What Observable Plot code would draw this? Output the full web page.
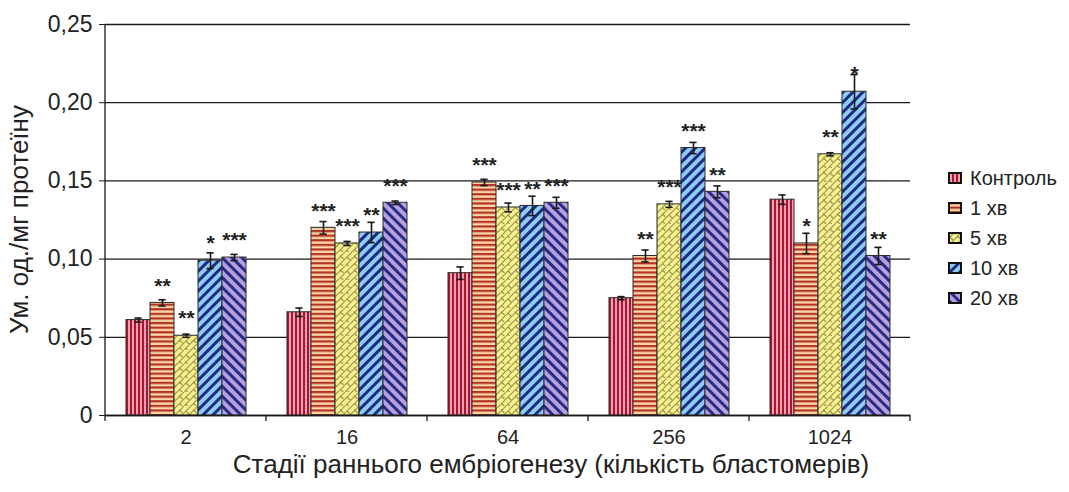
<!DOCTYPE html>
<html>
<head>
<meta charset="utf-8">
<script src="https://cdn.jsdelivr.net/npm/d3@7"></script>
<script src="https://cdn.jsdelivr.net/npm/@observablehq/plot@0.6"></script>
<style>
  body { margin: 0; background: #fff; }
  #chart { position: relative; width: 1069px; height: 492px; font-family: "Liberation Sans", Arial, sans-serif; color: #222; }
  #chart svg.plot { position: absolute; left: 0; top: 0; }
  .legend { position: absolute; left: 948px; top: 163px; }
  .legend-item { position: absolute; left: 0; height: 30px; display: flex; align-items: center; white-space: nowrap; font-size: 20px; color: #222; }
  .legend-item svg { margin-right: 8px; }
</style>
</head>
<body>
<div id="chart"></div>
<script>
// Stages of early embryogenesis (number of blastomeres) and exposure groups
const stages = ["2", "16", "64", "256", "1024"];
const series = ["Контроль", "1 хв", "5 хв", "10 хв", "20 хв"];

// Mean values, arbitrary units per mg of protein
const valControl = [0.061, 0.066, 0.091, 0.075, 0.138];
const val1min    = [0.072, 0.120, 0.149, 0.102, 0.110];
const val5min    = [0.051, 0.110, 0.133, 0.135, 0.167];
const val10min   = [0.099, 0.117, 0.134, 0.171, 0.207];
const val20min   = [0.101, 0.136, 0.136, 0.143, 0.102];

// Standard errors
const errControl = [0.0013, 0.0027, 0.0040, 0.0010, 0.0030];
const err1min    = [0.0020, 0.0040, 0.0020, 0.0038, 0.0065];
const err5min    = [0.0010, 0.0013, 0.0028, 0.0019, 0.0010];
const err10min   = [0.0050, 0.0065, 0.0062, 0.0036, 0.0110];
const err20min   = [0.0020, 0.0011, 0.0035, 0.0038, 0.0055];

// Significance versus control
const sigControl = ["", "", "", "", ""];
const sig1min    = ["**", "***", "***", "**", "*"];
const sig5min    = ["**", "***", "***", "***", "**"];
const sig10min   = ["*", "**", "**", "***", "*"];
const sig20min   = ["***", "***", "***", "**", "**"];

// Y axis ticks and titles
const yTicks = [0, 0.05, 0.10, 0.15, 0.20, 0.25];
const yTitle = "Ум. од./мг протеїну";
const xTitle = "Стадії раннього ембріогенезу (кількість бластомерів)";

const values = [valControl, val1min, val5min, val10min, val20min];
const errors = [errControl, err1min, err5min, err10min, err20min];
const sigs = [sigControl, sig1min, sig5min, sig10min, sig20min];

const rows = [];
series.forEach((s, i) => stages.forEach((st, j) => {
  rows.push({stage: st, series: s, value: values[i][j], err: errors[i][j], sig: sigs[i][j]});
}));

// Hatch patterns for the bar fills
const defsSvg = d3.select("body").append("svg")
  .attr("width", 0).attr("height", 0).style("position", "absolute");
const defs = defsSvg.append("defs");

// Контроль: vertical stripes
const p0 = defs.append("pattern").attr("id", "pat0").attr("patternUnits", "userSpaceOnUse").attr("width", 4).attr("height", 4);
p0.append("rect").attr("width", 4).attr("height", 4).attr("fill", "#f49db3");
p0.append("rect").attr("width", 2).attr("height", 4).attr("fill", "#a5162f");

// 1 хв: horizontal stripes
const p1 = defs.append("pattern").attr("id", "pat1").attr("patternUnits", "userSpaceOnUse").attr("width", 4).attr("height", 4.6);
p1.append("rect").attr("width", 4).attr("height", 4.6).attr("fill", "#fad7a0");
p1.append("rect").attr("width", 4).attr("height", 2.2).attr("fill", "#b3312a");

// 5 хв: diagonal brick
const p2 = defs.append("pattern").attr("id", "pat2").attr("patternUnits", "userSpaceOnUse").attr("width", 14).attr("height", 14);
p2.append("rect").attr("width", 14).attr("height", 14).attr("fill", "#f7f08f");
p2.append("path")
  .attr("d", "M-1,8 L8,-1 M-1,15 L15,-1 M6,15 L15,6 M2,5 L5.5,8.5 M9.5,11.5 L13,15 M9,3.5 L12.5,7 M1.5,12 L4,14.5")
  .attr("stroke", "#9a944c").attr("stroke-width", 1.1).attr("fill", "none");

// 10 хв and 20 хв: wide diagonal stripes
const p3 = defs.append("pattern").attr("id", "pat3").attr("patternUnits", "userSpaceOnUse").attr("width", 7).attr("height", 7).attr("patternTransform", "rotate(45)");
p3.append("rect").attr("width", 7).attr("height", 7).attr("fill", "#8fcdf0");
p3.append("rect").attr("width", 3).attr("height", 7).attr("fill", "#1e2b86");

const p4 = defs.append("pattern").attr("id", "pat4").attr("patternUnits", "userSpaceOnUse").attr("width", 7).attr("height", 7).attr("patternTransform", "rotate(-45)");
p4.append("rect").attr("width", 7).attr("height", 7).attr("fill", "#b8a1db");
p4.append("rect").attr("width", 3).attr("height", 7).attr("fill", "#262d88");

const fills = series.map((_, i) => `url(#pat${i})`);
const fmt = d => d === 0 ? "0" : d.toFixed(2).replace(".", ",");
const ink = "#1a1a1a";

const plot = Plot.plot({
  width: 1069,
  height: 492,
  marginLeft: 103,
  marginRight: 158,
  marginTop: 24,
  marginBottom: 77,
  style: {fontFamily: "Liberation Sans, Arial, sans-serif", fontSize: "20px", color: "#222", background: "transparent"},
  fx: {domain: stages, padding: 0},
  x: {domain: series, paddingInner: 0, paddingOuter: 0.76, axis: null},
  y: {domain: [0, 0.25]},
  color: {type: "ordinal", domain: series, range: fills},
  marks: [
    Plot.gridY(yTicks, {stroke: ink, strokeOpacity: 1, strokeWidth: 1.3}),
    Plot.axisY({ticks: yTicks, tickFormat: fmt, tickSize: 6, tickPadding: 7, stroke: ink, fontSize: 23,
      label: null}),
    Plot.axisFx({anchor: "bottom", tickSize: 0, tickPadding: 14, fontSize: 20, label: null}),
    Plot.barY(rows, {fx: "stage", x: "series", y: "value", fill: "series", stroke: "#2a2a2a", strokeWidth: 1}),
    Plot.ruleX(rows, {fx: "stage", x: "series", y1: d => d.value - d.err, y2: d => d.value + d.err, stroke: ink, strokeWidth: 1.6}),
    Plot.tickY(rows, {fx: "stage", x: "series", y: d => d.value + d.err, insetLeft: 8.4, insetRight: 8.4, stroke: ink, strokeWidth: 1.6}),
    Plot.tickY(rows, {fx: "stage", x: "series", y: d => d.value - d.err, insetLeft: 8.4, insetRight: 8.4, stroke: ink, strokeWidth: 1.6}),
    Plot.text(rows.filter(d => d.sig), {fx: "stage", x: "series", y: "value", text: "sig", dy: -17, fontSize: 21, fontWeight: "bold", fill: "#222"}),
    Plot.ruleY([0], {stroke: ink, strokeWidth: 1.3})
  ]
});
plot.classList.add("plot");
document.getElementById("chart").appendChild(plot);

// Vertical axis line, category separator ticks and both axis titles
const ys = plot.scale("y");
const fxs = plot.scale("fx");
const svg = d3.select(plot);
const [x0, x1] = [fxs.apply(stages[0]), fxs.apply(stages[stages.length - 1]) + fxs.bandwidth];
svg.append("line").attr("x1", x0).attr("x2", x0).attr("y1", ys.apply(0.25)).attr("y2", ys.apply(0))
  .attr("stroke", ink).attr("stroke-width", 1.3);
const edges = stages.map(s => fxs.apply(s)).concat([x1]);
svg.append("g").selectAll("line").data(edges).join("line")
  .attr("x1", d => d).attr("x2", d => d).attr("y1", ys.apply(0)).attr("y2", ys.apply(0) + 6)
  .attr("stroke", ink).attr("stroke-width", 1.3);
svg.append("text").attr("x", 551).attr("y", 473).attr("text-anchor", "middle")
  .attr("font-size", 26).attr("fill", "#222").text(xTitle);
svg.append("text").attr("transform", `translate(28,${(ys.apply(0) + ys.apply(0.25)) / 2}) rotate(-90)`)
  .attr("text-anchor", "middle").attr("font-size", 26).attr("fill", "#222").text(yTitle);

// Legend
const legend = d3.select("#chart").append("div").attr("class", "legend");
series.forEach((s, i) => {
  const item = legend.append("div").attr("class", "legend-item").style("top", `${i * 30}px`);
  const sw = item.append("svg").attr("width", 14).attr("height", 12);
  sw.append("rect").attr("x", 1).attr("y", 1).attr("width", 12).attr("height", 10)
    .attr("fill", fills[i]).attr("stroke", "#111").attr("stroke-width", 2);
  item.append("span").text(s);
});
</script>
</body>
</html>
